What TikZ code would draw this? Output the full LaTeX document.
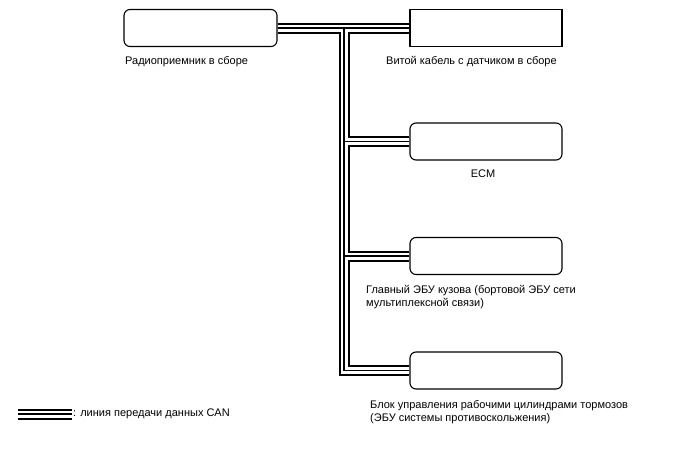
\documentclass[tikz,border=0pt]{standalone}
\usepackage{fontspec}
\setmainfont{Liberation Sans}
\usetikzlibrary{positioning}

\tikzset{
  ecu/.style={draw, line width=1.1pt, rounded corners=6pt, minimum width=152pt, minimum height=37pt, inner sep=0pt},
  sqecu/.style={ecu, rounded corners=0pt},
  lbl/.style={inner sep=0pt, font=\fontsize{11}{13.5}\selectfont, align=left}
}

\begin{document}
\begin{tikzpicture}[x=1pt, y=-1pt]
  \path[use as bounding box] (0,0) rectangle (688,463);

  % units
  \node[ecu, minimum width=153pt] (radio) at (200.5,28) {};
  \node[sqecu] (twist) at (486,28) {};
  \node[ecu] (ecm) at (486,141.5) {};
  \node[ecu] (body) at (486,256) {};
  \node[ecu] (brake) at (486,370.5) {};

  \node[lbl, anchor=west] (radiolbl) at (125,62) {Радиоприемник в сборе};
  \node[lbl, anchor=west] (twistlbl) at (386,62) {Витой кабель с датчиком в сборе};
  \node[lbl] (ecmlbl) at (483,174) {ECM};
  \node[lbl, anchor=north west] (bodylbl) at (366,285) {Главный ЭБУ кузова (бортовой ЭБУ сети\\мультиплексной связи)};
  \node[lbl, anchor=north west] (brakelbl) at (370,400) {Блок управления рабочими цилиндрами тормозов\\(ЭБУ системы противоскольжения)};

  % CAN bus
  \coordinate (tee) at (344,28);
  \coordinate (leg1) at (18,414);
  \coordinate (leg2) at (72,414);
  \foreach \w/\c in {11/black, 7/white, 1.6/black} {
    \draw[line width=\w pt, color=\c] (radio.east) -- (twist.west);
    \draw[line width=\w pt, color=\c, line join=miter] (tee) |- (brake.west);
    \draw[line width=\w pt, color=\c] (ecm.west -| tee) -- (ecm.west);
    \draw[line width=\w pt, color=\c] (body.west -| tee) -- (body.west);
    \draw[line width=\w pt, color=\c] (leg1) -- (leg2);
  }
  \node[lbl, anchor=west, right=1pt of leg2] (leglbl) {: линия передачи данных CAN};
\end{tikzpicture}
\end{document}
